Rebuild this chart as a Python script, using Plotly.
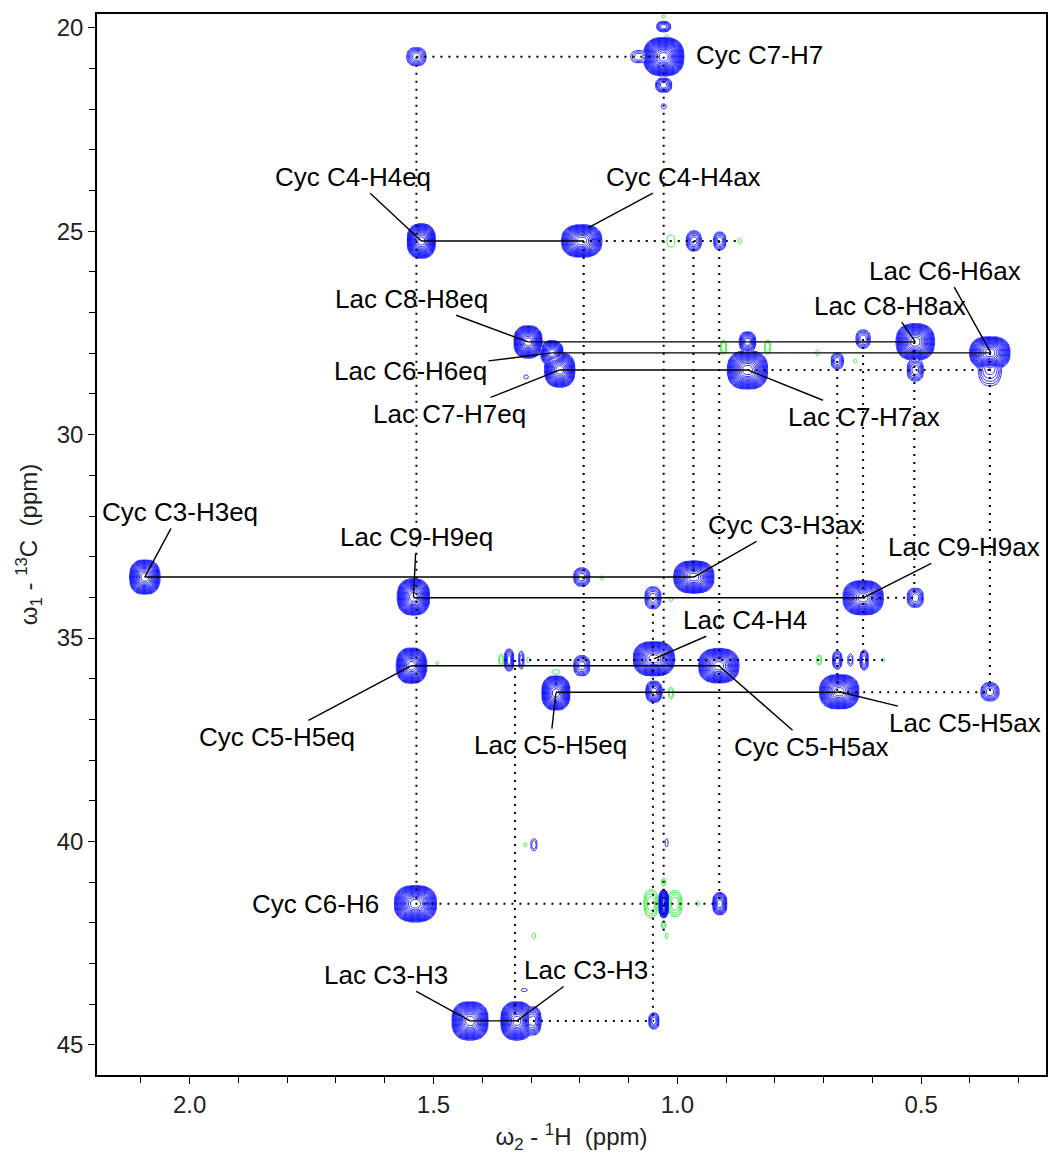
import numpy as np
import plotly.graph_objects as go

# ---------------------------------------------------------------------------
# Peak list of the 1H-13C HSQC spectrum (ppm).  Positive cross peaks are drawn
# in blue, negative ones (negative level count) in green.
# peak_wh / peak_wc: contour half-widths (ppm) of the lowest contour level.
# ---------------------------------------------------------------------------
peak_h = [1.028, 1.079, 1.028, 1.028, 1.028, 1.535,
          1.525, 1.196, 0.966, 0.913,
          1.306, 1.257, 1.241, 1.310, 0.856, 0.856, 0.512, 0.359, 0.359, 0.512, 0.672, 0.619,
          2.092, 1.541, 0.966, 0.619, 1.196, 1.050, 0.512,
          1.545, 1.249, 1.048, 0.915, 0.668, 1.048, 0.359, 1.345, 1.320, 1.196, 0.672, 0.645, 0.617,
          1.537, 1.028, 0.913, 1.294, 1.022,
          1.425, 1.329, 1.296, 1.048, 1.314,
          # negative peaks
          1.013, 0.872, 0.905, 0.815, 0.713, 0.635, 1.155, 1.013,
          1.361, 1.306, 1.249, 1.013, 0.709, 0.578, 1.492,
          1.054, 1.005, 0.958, 1.028, 1.028, 1.022, 1.294, 1.028, 1.022, 1.312]
peak_c = [20.71, 20.71, 19.97, 21.41, 21.93, 20.71,
          25.24, 25.24, 25.24, 25.24,
          27.72, 27.99, 28.41, 28.58, 28.41, 27.72, 27.72, 27.99, 28.30, 28.41, 28.19, 27.65,
          33.50, 33.99, 33.50, 34.01, 33.50, 34.01, 34.01,
          35.68, 36.35, 35.51, 35.68, 36.32, 36.32, 36.32, 35.54, 35.54, 35.68, 35.54, 35.54, 35.54,
          41.53, 41.53, 41.53, 40.08, 40.03,
          44.41, 44.41, 44.41, 44.41, 43.65,
          25.24, 25.24, 27.85, 27.85, 27.99, 28.19, 33.52, 34.05,
          35.54, 35.54, 35.83, 36.35, 35.54, 35.54, 35.62,
          41.53, 41.53, 41.53, 41.00, 42.05, 42.32, 42.32, 19.72, 20.21, 40.08]
peak_wh = [0.041, 0.0164, 0.0143, 0.0164, 0.0051, 0.0194,
           0.0286, 0.041, 0.0153, 0.0123,
           0.0286, 0.0225, 0.0307, 0.0041, 0.041, 0.0164, 0.0389, 0.041, 0.024, 0.0164, 0.0123, 0.0143,
           0.0307, 0.0327, 0.041, 0.041, 0.0164, 0.0164, 0.0164,
           0.0307, 0.0286, 0.042, 0.041, 0.040, 0.0164, 0.0184, 0.0092, 0.0051, 0.0164, 0.0092, 0.0051, 0.0082,
           0.043, 0.0092, 0.0143, 0.0061, 0.0031,
           0.0368, 0.0327, 0.0164, 0.0102, 0.0061,
           0.0082, 0.0031, 0.0061, 0.0061, 0.0031, 0.0031, 0.0031, 0.0031,
           0.0051, 0.0025, 0.0082, 0.0051, 0.0051, 0.0025, 0.0025,
           0.0143, 0.0143, 0.0031, 0.0041, 0.0041, 0.0025, 0.0031, 0.0031, 0.0031, 0.0025]
peak_wc = [0.467, 0.147, 0.123, 0.172, 0.061, 0.221,
           0.418, 0.393, 0.246, 0.221,
           0.393, 0.295, 0.418, 0.05, 0.467, 0.246, 0.442, 0.393, 0.50, 0.27, 0.197, 0.221,
           0.418, 0.442, 0.393, 0.418, 0.221, 0.27, 0.234,
           0.43, 0.418, 0.418, 0.418, 0.418, 0.258, 0.221, 0.27, 0.221, 0.246, 0.221, 0.147, 0.246,
           0.442, 0.344, 0.27, 0.147, 0.098,
           0.467, 0.467, 0.344, 0.197, 0.037,
           0.147, 0.074, 0.172, 0.172, 0.074, 0.05, 0.05, 0.05,
           0.147, 0.074, 0.05, 0.147, 0.123, 0.05, 0.037,
           0.344, 0.32, 0.061, 0.098, 0.098, 0.074, 0.074, 0.037, 0.037, 0.05]
peak_levels = [20, 3, 5, 6, 1, 6,
               17, 17, 6, 5,
               16, 13, 16, 1, 17, 8, 17, 17, 5, 6, 5, 5,
               16, 17, 17, 17, 6, 6, 6,
               17, 16, 17, 17, 17, 8, 6, 6, 3, 6, 5, 2, 5,
               18, 17, 8, 2, 1,
               17, 17, 8, 5, 1,
               -1, -1, -2, -2, -1, -1, -1, -1,
               -2, -1, -1, -2, -2, -1, -1,
               -4, -4, -1, -2, -2, -1, -1, -1, -1, -1]

# Assignment labels: text position and the cross peak each label points to
label_text = ["Cyc C4-H4eq", "Cyc C4-H4ax", "Lac C6-H6ax", "Lac C8-H8ax", "Lac C8-H8eq",
              "Lac C6-H6eq", "Lac C7-H7eq", "Lac C7-H7ax", "Cyc C3-H3eq", "Lac C9-H9eq",
              "Cyc C3-H3ax", "Lac C9-H9ax", "Lac C4-H4", "Cyc C5-H5eq", "Lac C5-H5eq",
              "Cyc C5-H5ax", "Lac C5-H5ax", "Lac C3-H3", "Lac C3-H3"]
label_h = [1.666, 0.987, 0.451, 0.563, 1.545, 1.547, 1.468, 0.617, 2.020, 1.535,
           0.778, 0.412, 0.862, 1.820, 1.261, 0.725, 0.410, 1.597, 1.187]
label_c = [23.66, 23.66, 25.97, 26.83, 26.66, 28.43, 29.49, 29.56, 31.90, 32.51,
           32.22, 32.76, 34.55, 37.43, 37.63, 37.67, 37.08, 43.28, 43.16]
target_h = [1.525, 1.183, 0.357, 0.512, 1.306, 1.257, 1.241, 0.856, 2.092, 1.541,
            0.966, 0.619, 1.048, 1.545, 1.249, 0.915, 0.668, 1.425, 1.329]
target_c = [25.24, 24.92, 27.99, 27.72, 27.72, 27.99, 28.41, 28.41, 33.50, 33.99,
            33.50, 34.01, 35.51, 35.68, 36.35, 35.68, 36.32, 44.41, 44.41]

# Labels without a leader line
plain_text = ["Cyc C7-H7", "Cyc C6-H6"]
plain_h = [0.966, 1.742]
plain_c = [20.66, 41.53]
plain_anchor = ["left", "center"]

# Solid correlation lines between the geminal pairs (H from, H to, C)
solid_h1 = [1.525, 1.306, 1.257, 1.241, 2.092, 1.541, 1.545, 1.249, 1.425]
solid_h2 = [1.196, 0.512, 0.359, 0.856, 0.966, 0.619, 0.915, 0.668, 1.329]
solid_c = [25.24, 27.72, 27.99, 28.41, 33.50, 34.01, 35.68, 36.33, 44.41]

# Dotted guide lines: horizontal (H from, H to, C) and vertical (H, C from, C to)
hdot_h1 = [1.535, 1.196, 0.856, 0.619, 1.320, 0.668, 1.537, 1.329]
hdot_h2 = [1.028, 0.880, 0.359, 0.512, 0.578, 0.359, 0.913, 1.048]
hdot_c = [20.71, 25.24, 28.41, 34.01, 35.54, 36.33, 41.53, 44.41]
vdot_h = [1.535, 1.333, 1.192, 1.050, 1.028, 0.967, 0.914, 0.672, 0.619, 0.514, 0.359]
vdot_c1 = [20.71, 35.54, 25.24, 34.01, 20.71, 25.24, 25.24, 28.19, 27.65, 27.72, 27.99]
vdot_c2 = [41.53, 44.41, 35.68, 44.41, 42.32, 33.50, 41.53, 36.33, 35.54, 34.01, 36.33]

# Axis ranges (ppm)
h_range = [2.19, 0.244]
c_range = [45.74, 19.66]

# ---------------------------------------------------------------------------
# Build the 2D spectrum on a regular grid from the peak list
# ---------------------------------------------------------------------------
shape_p = 2.6
H = np.arange(0.236, 2.20, 0.0024)
C = np.arange(19.55, 45.85, 0.03)
pos = np.zeros((C.size, H.size))
neg = np.zeros((C.size, H.size))
for h, c, wh, wc, n in zip(peak_h, peak_c, peak_wh, peak_wc, peak_levels):
    i0, i1 = np.searchsorted(H, [h - 2.2 * wh, h + 2.2 * wh])
    j0, j1 = np.searchsorted(C, [c - 2.2 * wc, c + 2.2 * wc])
    dx = np.abs(H[i0:i1] - h) / wh
    dy = np.abs(C[j0:j1] - c) / wc
    s2 = (dx[None, :] ** shape_p + dy[:, None] ** shape_p) ** (2.0 / shape_p)
    val = np.exp(abs(n) * (1.0 - s2))
    if n > 0:
        pos[j0:j1, i0:i1] += val
    else:
        neg[j0:j1, i0:i1] += val


def levels(a):
    out = np.zeros_like(a)
    m = a > 0
    out[m] = np.clip(np.log(a[m]) + 0.5, 0, None)
    return out


Z = (levels(pos) - levels(neg)).astype(np.float32)

BLUE = "#0a0aff"
GREEN = "#2ee62e"
FONT = "Liberation Sans, Arial, Helvetica, sans-serif"
NLEV = 21

fig = go.Figure()
fig.add_trace(go.Contour(
    x=H, y=C, z=Z,
    zmin=-NLEV, zmax=NLEV, autocontour=False,
    contours=dict(start=-NLEV + 0.5, end=NLEV - 0.5, size=1, coloring="lines"),
    colorscale=[[0, GREEN], [0.5, GREEN], [0.5, BLUE], [1, BLUE]],
    line=dict(width=0.9),
    showscale=False, hoverinfo="skip",
))

# solid pair lines
sx, sy = [], []
for a, b, c in zip(solid_h1, solid_h2, solid_c):
    sx += [a, b, None]
    sy += [c, c, None]
fig.add_trace(go.Scatter(x=sx, y=sy, mode="lines", hoverinfo="skip",
                         line=dict(color="black", width=1.4), showlegend=False))

# dotted guide lines
dx_, dy_ = [], []
for a, b, c in zip(hdot_h1, hdot_h2, hdot_c):
    dx_ += [a, b, None]
    dy_ += [c, c, None]
for h, c1, c2 in zip(vdot_h, vdot_c1, vdot_c2):
    dx_ += [h, h, None]
    dy_ += [c1, c2, None]
fig.add_trace(go.Scatter(x=dx_, y=dy_, mode="lines", hoverinfo="skip",
                         line=dict(color="black", width=2, dash="2px,6px"),
                         showlegend=False))

annotations = []
for t, lh, lc, th, tc in zip(label_text, label_h, label_c, target_h, target_c):
    annotations.append(dict(
        x=th, y=tc, xref="x", yref="y", ax=lh, ay=lc, axref="x", ayref="y",
        text=t, showarrow=True, arrowhead=0, arrowwidth=1.4, arrowcolor="black",
        standoff=0, startstandoff=0,
        font=dict(family=FONT, size=26, color="black")))
for t, lh, lc, anc in zip(plain_text, plain_h, plain_c, plain_anchor):
    annotations.append(dict(
        x=lh, y=lc, xref="x", yref="y", text=t, showarrow=False, xanchor=anc,
        font=dict(family=FONT, size=26, color="black")))

h_major = [2.0, 1.5, 1.0, 0.5]
h_minor = [round(v, 1) for v in np.arange(0.3, 2.15, 0.1) if round(v, 1) not in h_major]
c_major = [20, 25, 30, 35, 40, 45]
c_minor = [v for v in range(20, 46) if v not in c_major]

axis_common = dict(showline=True, linecolor="black", linewidth=1.6, mirror=True,
                   ticks="outside", ticklen=7, tickwidth=1.2, tickcolor="black",
                   showgrid=False, zeroline=False,
                   tickfont=dict(family=FONT, size=24, color="#222"))

fig.update_layout(
    width=1050, height=1156,
    margin=dict(l=97, r=2, t=14, b=81),
    paper_bgcolor="white", plot_bgcolor="white",
    showlegend=False,
    annotations=annotations,
    xaxis=dict(range=h_range, tickmode="array", tickvals=h_major,
               ticktext=["2.0", "1.5", "1.0", "0.5"],
               minor=dict(tickmode="array", tickvals=h_minor, ticks="outside",
                          ticklen=6, tickcolor="black", tickwidth=1.2),
               title=dict(text="ω<sub>2</sub> - <sup>1</sup>H&nbsp;&nbsp;(ppm)",
                          font=dict(family=FONT, size=24, color="#222"), standoff=12),
               **axis_common),
    yaxis=dict(range=c_range, tickmode="array", tickvals=c_major,
               ticktext=[str(v) for v in c_major],
               minor=dict(tickmode="array", tickvals=c_minor, ticks="outside",
                          ticklen=6, tickcolor="black", tickwidth=1.2),
               title=dict(text="ω<sub>1</sub> - <sup>13</sup>C&nbsp;&nbsp;(ppm)",
                          font=dict(family=FONT, size=24, color="#222"), standoff=12),
               **axis_common),
)

fig.write_html("out.html")
